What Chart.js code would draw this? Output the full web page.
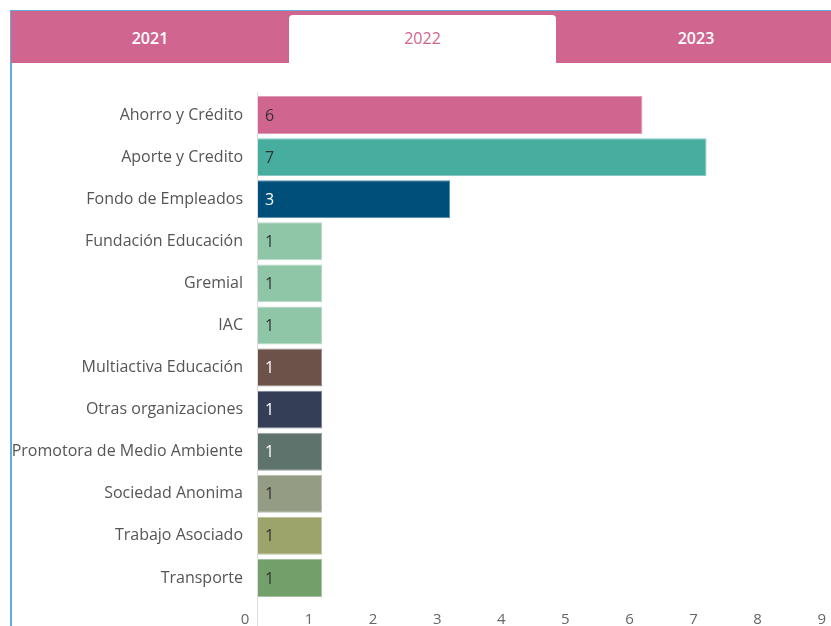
<!DOCTYPE html>
<html>
<head>
<meta charset="utf-8">
<script src="https://cdn.jsdelivr.net/npm/chart.js@4.4.1/dist/chart.umd.min.js"></script>
<style>
  html, body { margin: 0; padding: 0; background: #fff; overflow: hidden; width: 831px; height: 626px; }
  #frame { position: absolute; left: 10px; top: 10px; width: 900px; height: 700px;
           border-left: 2px solid #62acd8; border-top: 1px solid #62acd8; box-sizing: border-box; }
  #tabs { position: absolute; left: 11px; top: 11px; width: 840px; height: 52px; background: #d06590; }
  .tab { position: absolute; top: 0; height: 52px; line-height: 54px; text-align: center;
         font-family: "Open Sans", sans-serif; font-size: 16px; color: #fff; font-weight: 600; }
  .tab.active { background: #fff; color: #d06590; font-weight: 400; top: 4px; height: 48px; line-height: 46px;
                border-radius: 4px 4px 0 0; }
  #wrap { position: absolute; left: 11px; top: 63px; width: 840px; height: 582px; }
</style>
</head>
<body>
<div id="frame"></div>
<div id="tabs"></div>
<div id="wrap"><canvas id="c"></canvas></div>
<script>
const years = ["2021", "2022", "2023"];
const activeYear = "2022";
const categories = ["Ahorro y Crédito", "Aporte y Credito", "Fondo de Empleados", "Fundación Educación",
  "Gremial", "IAC", "Multiactiva Educación", "Otras organizaciones", "Promotora de Medio Ambiente",
  "Sociedad Anonima", "Trabajo Asociado", "Transporte"];
const values = [6, 7, 3, 1, 1, 1, 1, 1, 1, 1, 1, 1];
const barColors = ["#d06590", "#47ae9f", "#004f7a", "#8fc6a8", "#8fc6a8", "#8fc6a8", "#6d5249",
  "#343f57", "#5f736d", "#949c84", "#9da46b", "#73a06a"];
const labelColors = ["#333", "#333", "#fff", "#333", "#333", "#333", "#fff", "#fff", "#fff", "#333", "#333", "#333"];
const xTicks = [0, 1, 2, 3, 4, 5, 6, 7, 8, 9];

// tabs
const tabsEl = document.getElementById('tabs');
const tabLefts = [0, 278, 545], tabWidths = [278, 267, 280];
years.forEach((y, i) => {
  const d = document.createElement('div');
  d.className = 'tab' + (y === activeYear ? ' active' : '');
  d.style.left = tabLefts[i] + 'px';
  d.style.width = tabWidths[i] + 'px';
  d.textContent = y;
  tabsEl.appendChild(d);
});

function lighten(hex, f) {
  const n = parseInt(hex.slice(1), 16);
  const r = (n >> 16) & 255, g = (n >> 8) & 255, b = n & 255;
  const m = v => Math.round(v + (255 - v) * f);
  return `rgb(${m(r)},${m(g)},${m(b)})`;
}

const valueLabels = {
  id: 'valueLabels',
  afterDatasetsDraw(chart) {
    const ctx = chart.ctx;
    const meta = chart.getDatasetMeta(0);
    ctx.save();
    ctx.font = '16px "Open Sans", sans-serif';
    ctx.textAlign = 'left';
    ctx.textBaseline = 'middle';
    meta.data.forEach((bar, i) => {
      ctx.fillStyle = labelColors[i];
      ctx.fillText(String(values[i]), bar.base + 7, bar.y + 1);
    });
    ctx.restore();
  }
};

const axisExtension = {
  id: 'axisExtension',
  afterDraw(chart) {
    const ctx = chart.ctx;
    const x = chart.scales.x.getPixelForValue(0);
    ctx.save();
    ctx.strokeStyle = '#dddddd';
    ctx.lineWidth = 1;
    ctx.beginPath();
    ctx.moveTo(Math.round(x) - 0.5, chart.chartArea.top - 2);
    ctx.lineTo(Math.round(x) - 0.5, chart.height);
    ctx.stroke();
    ctx.restore();
  }
};

new Chart(document.getElementById('c'), {
  type: 'bar',
  data: {
    labels: categories,
    datasets: [{
      data: values,
      backgroundColor: barColors,
      borderColor: barColors.map(c => lighten(c, 0.35)),
      borderWidth: 1,
      barPercentage: 0.9,
      categoryPercentage: 1.0
    }]
  },
  options: {
    indexAxis: 'y',
    responsive: true,
    maintainAspectRatio: false,
    animation: false,
    layout: { padding: { top: 31, right: 13, bottom: 4, left: 0 } },
    plugins: { legend: { display: false }, tooltip: { enabled: false } },
    scales: {
      x: {
        min: 0, max: 9,
        afterBuildTicks: s => { s.ticks = xTicks.map(v => ({ value: v })); },
        grid: { display: false, drawTicks: false },
        border: { display: false },
        ticks: { color: '#666', padding: 12, labelOffset: -13, maxRotation: 0, autoSkip: false,
                 font: { family: '"Open Sans", sans-serif', size: 15 } }
      },
      y: {
        afterFit: s => { s.width = 247; },
        grid: { display: false, drawTicks: false },
        border: { display: false },
        ticks: { color: '#555', padding: 15, autoSkip: false,
                 font: { family: '"Open Sans", sans-serif', size: 16 } }
      }
    }
  },
  plugins: [valueLabels, axisExtension]
});
</script>
</body>
</html>
